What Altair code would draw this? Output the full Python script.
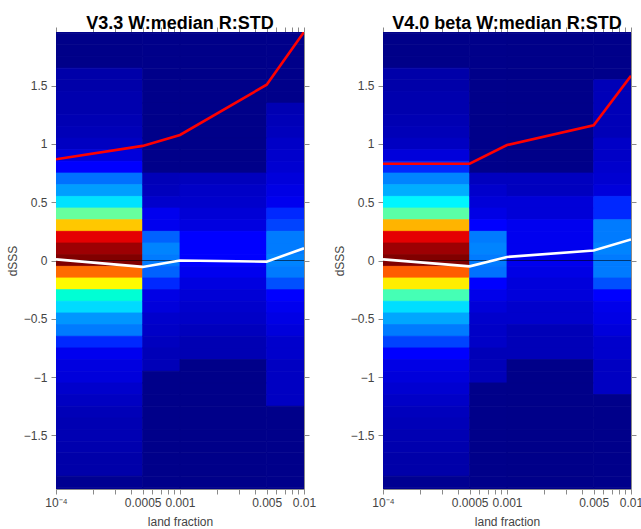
import altair as alt
import pandas as pd

# ---------------- data ----------------
col_edges = [1e-4, 5e-4, 1e-3, 5e-3, 1e-2]
bin_centers = [round(2.0 - 0.1 * i, 1) for i in range(41)]  # 2.0 (top) ... -2.0 (bottom)
bin_half = 0.05

# jet colour index (0..1) per dSSS bin, top -> bottom, one list per land-fraction column
v33_c1 = [0.006, 0.006, 0.006, 0.006,
          0.04, 0.04, 0.045, 0.045, 0.05, 0.055, 0.065,
          0.09, 0.125, 0.19, 0.24, 0.33, 0.5, 0.7, 0.9, 0.97,
          1.0,
          0.81, 0.63, 0.44, 0.32, 0.23, 0.2, 0.135, 0.11, 0.095,
          0.09, 0.075, 0.065, 0.055, 0.05, 0.05, 0.045, 0.04, 0.04,
          0.015, 0.015]
v33_c2 = [0.008] * 13 + [0.055, 0.06, 0.075, 0.11, 0.11, 0.175, 0.21] + [0.2] + \
         [0.175, 0.135, 0.1, 0.09, 0.075, 0.07, 0.0625, 0.055, 0.055] + [0.008] * 11
v33_c3 = [0.006] * 13 + [0.06, 0.07, 0.075, 0.085, 0.095, 0.125, 0.125] + [0.125] + \
         [0.11, 0.095, 0.085, 0.075, 0.07, 0.06, 0.05, 0.05] + [0.006] * 12
v33_c4 = [0.008] * 7 + [0.05, 0.055, 0.06, 0.07, 0.075, 0.08, 0.09, 0.1, 0.11, 0.135, 0.15, 0.2, 0.2] + [0.21] + \
         [0.2, 0.16, 0.125, 0.11, 0.1, 0.09, 0.075, 0.075, 0.065, 0.065, 0.065, 0.065] + [0.008] * 8

v40_c1 = [0.006, 0.006, 0.006, 0.006,
          0.04, 0.04, 0.045, 0.045, 0.05, 0.055, 0.065,
          0.09, 0.135, 0.21, 0.26, 0.36, 0.49, 0.725, 0.9, 0.97,
          1.0,
          0.825, 0.65, 0.475, 0.325, 0.25, 0.2, 0.15, 0.125, 0.1,
          0.09, 0.08, 0.07, 0.06, 0.055, 0.05, 0.045, 0.04, 0.04,
          0.015, 0.015]
v40_c2 = [0.008] * 13 + [0.0625, 0.075, 0.0875, 0.1, 0.125, 0.2, 0.21] + [0.2] + \
         [0.19, 0.125, 0.105, 0.0875, 0.075, 0.07, 0.07, 0.055, 0.055, 0.055] + [0.008] * 10
v40_c3 = [0.006] * 13 + [0.0625, 0.0625, 0.0875, 0.0875, 0.11, 0.11, 0.11] + [0.11] + \
         [0.1, 0.09, 0.09, 0.075, 0.075, 0.055, 0.055, 0.055] + [0.006] * 12
v40_c4 = [0.008] * 5 + [0.055, 0.055, 0.055, 0.055, 0.055, 0.07, 0.07, 0.075, 0.08, 0.09, 0.135, 0.135, 0.2, 0.2, 0.21] + [0.2] + \
         [0.2, 0.16, 0.125, 0.105, 0.1, 0.09, 0.075, 0.075, 0.065, 0.065, 0.065] + [0.008] * 9

# line series at the land-fraction nodes
line_x = [1e-4, 5e-4, 1e-3, 5e-3, 1e-2]
v33_std = [0.868, 0.983, 1.077, 1.508, 1.96]
v33_med = [0.01, -0.055, 0.0, -0.01, 0.105]
v40_std = [0.83, 0.83, 0.99, 1.16, 1.585]
v40_med = [0.01, -0.05, 0.03, 0.086, 0.18]

zero_line = [0.0]

all_ticks = [1e-4, 2e-4, 3e-4, 4e-4, 5e-4, 6e-4, 7e-4, 8e-4, 9e-4,
             1e-3, 2e-3, 3e-3, 4e-3, 5e-3, 6e-3, 7e-3, 8e-3, 9e-3, 1e-2]
y_ticks = [-1.5, -1.0, -0.5, 0.0, 0.5, 1.0, 1.5]

# ---------------- styling ----------------
FONT = "Liberation Sans"
AX_COL = "#444444"
DOM_COL = "#8a8a8a"
W, H = 248, 457

xscale = alt.Scale(type="log", domain=[1e-4, 1e-2], nice=False)
yscale = alt.Scale(domain=[-1.96, 1.96], nice=False, zero=False)
cscale = alt.Scale(domain=[0, 0.125, 0.375, 0.625, 0.875, 1.0],
                   range=["#000083", "#0000ff", "#00ffff", "#ffff00", "#ff0000", "#800000"])

label_expr = ("abs(datum.value-0.0001)<1e-9 ? '10⁻⁴' : abs(datum.value-0.0005)<1e-9 ? '0.0005' : "
              "abs(datum.value-0.001)<1e-9 ? '0.001' : abs(datum.value-0.005)<1e-9 ? '0.005' : "
              "abs(datum.value-0.01)<1e-9 ? '0.01' : ''")


def panel(title, cols, std, med):
    rows = []
    for ci, vals in enumerate(cols):
        for c, v in zip(bin_centers, vals):
            rows.append({"x0": col_edges[ci], "x1": col_edges[ci + 1],
                         "y0": c - bin_half, "y1": c + bin_half, "v": v})
    heat_df = pd.DataFrame(rows)
    line_df = pd.DataFrame({"x": line_x, "std": std, "med": med})

    heat = alt.Chart(heat_df).mark_rect(clip=True, strokeWidth=0.8).encode(
        x=alt.X("x0:Q", scale=xscale,
                axis=alt.Axis(orient="bottom", values=all_ticks, labelExpr=label_expr,
                              title="land fraction", grid=False, tickSize=5,
                              labelFont=FONT, labelFontSize=12, labelColor=AX_COL,
                              titleFont=FONT, titleFontSize=12, titleFontWeight="normal",
                              titleColor=AX_COL, domainColor=DOM_COL, tickColor=DOM_COL,
                              labelPadding=3, titlePadding=8, labelFlush=False,
                              labelOverlap=False)),
        x2="x1:Q",
        y=alt.Y("y0:Q", scale=yscale,
                axis=alt.Axis(orient="left", values=y_ticks, format="~g",
                              title="dSSS", grid=False, tickSize=5,
                              labelFont=FONT, labelFontSize=12, labelColor=AX_COL,
                              titleFont=FONT, titleFontSize=12, titleFontWeight="normal",
                              titleColor=AX_COL, domainColor=DOM_COL, tickColor=DOM_COL,
                              labelPadding=4, titlePadding=4, labelFlush=False)),
        y2="y1:Q",
        color=alt.Color("v:Q", scale=cscale, legend=None),
        stroke=alt.Color("v:Q", scale=cscale, legend=None),
    )

    zero = alt.Chart(pd.DataFrame({"y": zero_line})).mark_rule(
        color="black", opacity=0.55, strokeWidth=1).encode(
        y=alt.Y("y:Q", scale=yscale, axis=None))

    red = alt.Chart(line_df).mark_line(color="#ff0000", strokeWidth=2.6, clip=True).encode(
        x=alt.X("x:Q", scale=xscale,
                axis=alt.Axis(orient="top", values=all_ticks, labels=False, title=None,
                              grid=False, tickSize=5, domainColor=DOM_COL, tickColor=DOM_COL)),
        y=alt.Y("std:Q", scale=yscale,
                axis=alt.Axis(orient="right", values=y_ticks, labels=False, title=None,
                              grid=False, tickSize=5, domainColor=DOM_COL, tickColor=DOM_COL)),
    )

    white = alt.Chart(line_df).mark_line(color="#ffffff", strokeWidth=2.6, clip=True).encode(
        x=alt.X("x:Q", scale=xscale, axis=None),
        y=alt.Y("med:Q", scale=yscale, axis=None),
    )

    return alt.layer(heat, zero, red, white).resolve_axis(
        x="independent", y="independent"
    ).properties(
        width=W, height=H,
        title=alt.TitleParams(title, font=FONT, fontSize=18, fontWeight="bold",
                              color="black", offset=-6.5, anchor="middle"),
    )


left = panel("V3.3 W:median R:STD", [v33_c1, v33_c2, v33_c3, v33_c4], v33_std, v33_med)
right = panel("V4.0 beta W:median R:STD", [v40_c1, v40_c2, v40_c3, v40_c4], v40_std, v40_med)

chart = alt.hconcat(left, right, spacing=15).configure_view(
    stroke=None
).configure_axis(
    grid=False
).configure(
    background="white",
    padding={"left": 5, "top": 14, "right": -3, "bottom": 0},
)

chart.save("out.html", embed_options={"renderer": "svg", "actions": False})
